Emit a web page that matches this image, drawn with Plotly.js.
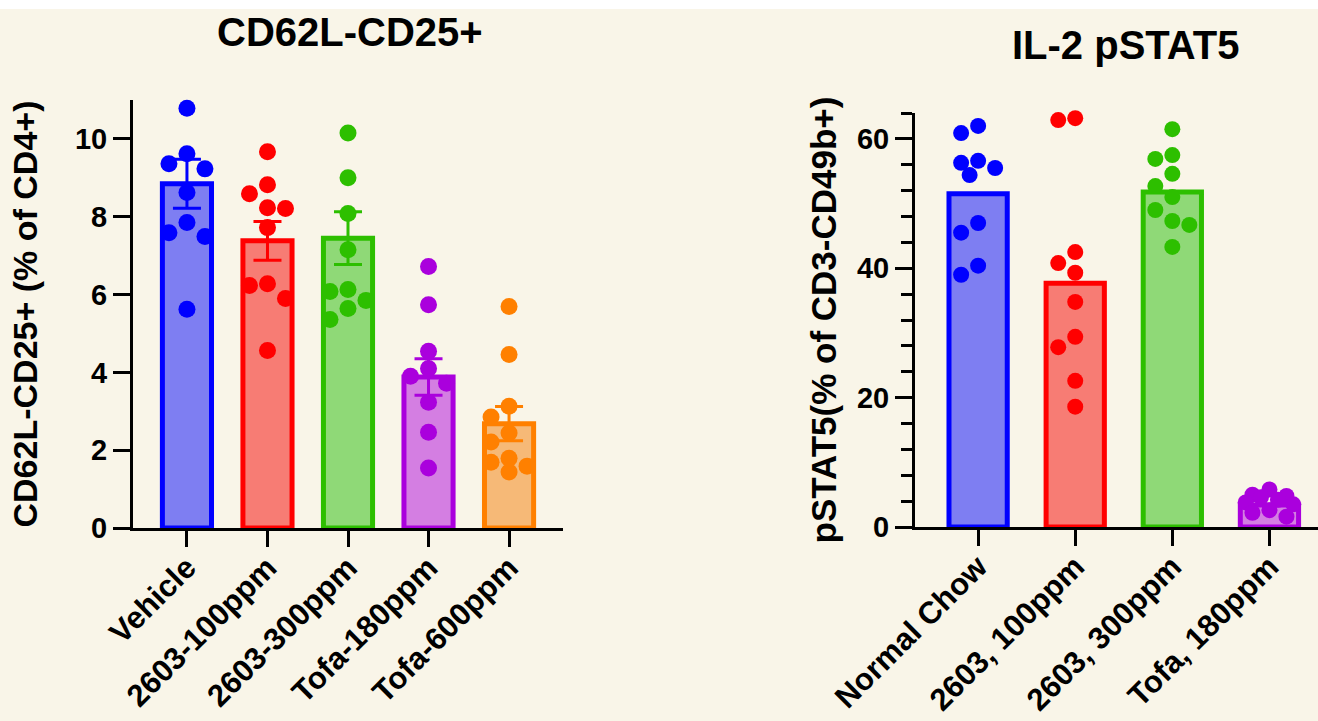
<!DOCTYPE html>
<html>
<head>
<meta charset="utf-8">
<script src="https://cdn.plot.ly/plotly-3.0.1.min.js"></script>
<style>
  html, body { margin: 0; padding: 0; background: #F9F5E8; }
  #chart { width: 1318px; height: 721px; }
</style>
</head>
<body>
<div id="chart"></div>
<script>
// ---------- Data (left panel) ----------
const cats1 = ['Vehicle', '2603-100ppm', '2603-300ppm', 'Tofa-180ppm', 'Tofa-600ppm'];
const means1 = [8.85, 7.38, 7.45, 3.88, 2.68];
const sem1 = [0.63, 0.50, 0.68, 0.47, 0.44];
const vehicle = [10.79, 9.62, 9.36, 9.23, 8.62, 7.85, 7.59, 7.49, 5.62];
const ppm100 = [9.67, 8.82, 8.59, 8.23, 8.21, 7.72, 6.28, 6.23, 5.90, 4.56];
const ppm300 = [10.15, 9.00, 8.08, 7.15, 6.13, 6.08, 5.85, 5.64, 5.36];
const tofa180 = [6.72, 5.74, 4.54, 4.10, 3.90, 3.72, 3.23, 2.46, 1.54];
const tofa600 = [5.69, 4.46, 3.13, 2.85, 2.44, 2.21, 1.79, 1.69, 1.59, 1.44];
const points1 = [vehicle, ppm100, ppm300, tofa180, tofa600];

// ---------- Data (right panel) ----------
const cats2 = ['Normal Chow', '2603, 100ppm', '2603, 300ppm', 'Tofa, 180ppm'];
const means2 = [51.5, 37.7, 51.8, 3.4];
const chow = [62.0, 60.9, 56.6, 56.3, 55.5, 54.4, 47.0, 45.5, 40.4, 39.0];
const s100 = [63.2, 62.9, 42.5, 40.8, 39.3, 34.8, 29.4, 27.8, 22.6, 18.6];
const s300 = [61.5, 57.5, 56.9, 54.6, 52.7, 51.0, 49.0, 47.3, 46.7, 43.3];
const sTofa = [5.8, 5.0, 4.8, 4.6, 4.2, 3.8, 3.5, 2.6, 2.2, 1.6];
const points2 = [chow, s100, s300, sTofa];

// ---------- Styles ----------
const lineColors1 = ['#0000FF', '#FF0000', '#2DBF00', '#AA00DD', '#FF8000'];
const fillColors1 = ['#7E7EF2', '#F77C74', '#8FD977', '#D47EE2', '#F6B977'];
const lineColors2 = lineColors1.slice(0, 4);
const fillColors2 = fillColors1.slice(0, 4);

const W = 1318, H = 721;
const FONT = '"Liberation Sans", Arial, Helvetica, sans-serif';
const BG = '#F9F5E8';

const ax1 = { xdom: [133 / W, 563 / W], xr: [-0.67, 4.67], ydom: [193 / H, 621 / H], yr: [0, 11] };
const ax2 = { xdom: [915 / W, 1], xr: [-0.65, 3.5], ydom: [194 / H, 608 / H], yr: [0, 64] };

// simple beeswarm in pixel space
function swarm(values, center, ax, diam) {
  const pxPerCat = (ax.xdom[1] - ax.xdom[0]) * W / (ax.xr[1] - ax.xr[0]);
  const pxPerY = (ax.ydom[1] - ax.ydom[0]) * H / (ax.yr[1] - ax.yr[0]);
  const placed = [];
  const xs = [];
  const prim = [0, -1, 1];
  const fallback = [0, -1, 1, -0.5, 0.5, -1.4, 1.4];
  values.forEach(v => {
    const py = v * pxPerY;
    const minD = (ox) => {
      let m = Infinity;
      placed.forEach(p => { m = Math.min(m, Math.hypot(p[0] - ox, p[1] - py)); });
      return m;
    };
    let chosen = null;
    for (const k of prim) {
      if (minD(k * diam) >= diam * 0.92) { chosen = k * diam; break; }
    }
    if (chosen === null) {
      let best = -1;
      for (const k of fallback) {
        const d = minD(k * diam);
        if (d > best) { best = d; chosen = k * diam; }
      }
    }
    placed.push([chosen, py]);
    xs.push(center + chosen / pxPerCat);
  });
  return xs;
}

const traces = [];
const idx1 = cats1.map((_, i) => i);
const idx2 = cats2.map((_, i) => i);

traces.push({
  type: 'bar', x: idx1, y: means1, width: 0.61,
  marker: { color: fillColors1, line: { color: lineColors1, width: 5 } },
  xaxis: 'x', yaxis: 'y', showlegend: false, hoverinfo: 'skip'
});
// error bars per group (colored)
idx1.forEach(i => {
  traces.push({
    type: 'scatter', mode: 'markers', x: [i], y: [means1[i]],
    marker: { size: 0.1, color: lineColors1[i], opacity: 0 },
    error_y: { type: 'data', array: [sem1[i]], visible: true, color: lineColors1[i], thickness: 3, width: 14 },
    xaxis: 'x', yaxis: 'y', showlegend: false, hoverinfo: 'skip', cliponaxis: false
  });
});
idx1.forEach(i => {
  traces.push({
    type: 'scatter', mode: 'markers',
    x: swarm(points1[i], i, ax1, 18), y: points1[i],
    marker: { size: 17, color: lineColors1[i], line: { width: 0 } },
    xaxis: 'x', yaxis: 'y', showlegend: false, hoverinfo: 'skip', cliponaxis: false
  });
});

traces.push({
  type: 'bar', x: idx2, y: means2, width: 0.6,
  marker: { color: fillColors2, line: { color: lineColors2, width: 5 } },
  xaxis: 'x2', yaxis: 'y2', showlegend: false, hoverinfo: 'skip'
});
idx2.forEach(i => {
  traces.push({
    type: 'scatter', mode: 'markers',
    x: swarm(points2[i], i, ax2, 17), y: points2[i],
    marker: { size: 16, color: lineColors2[i], line: { width: 0 } },
    xaxis: 'x2', yaxis: 'y2', showlegend: false, hoverinfo: 'skip', cliponaxis: false
  });
});

const tickFont = { family: FONT, size: 29, color: '#000', weight: 700 };
const xTickFont = { family: FONT, size: 31, color: '#000', weight: 700 };
const axTitleFont1 = { family: FONT, size: 34, color: '#000', weight: 700 };
const axTitleFont2 = { family: FONT, size: 35, color: '#000', weight: 700 };

const baseX = {
  showline: true, linewidth: 3, linecolor: '#000', showgrid: false, zeroline: false,
  ticks: 'outside', ticklen: 16, tickwidth: 3, tickcolor: '#000', tickangle: -45,
  tickfont: xTickFont, fixedrange: true, automargin: false, ticklabelstandoff: -10
};
const baseY = {
  showline: true, linewidth: 3, linecolor: '#000', showgrid: false, zeroline: false,
  ticks: 'outside', ticklen: 17, tickwidth: 3, tickcolor: '#000',
  tickfont: tickFont, fixedrange: true, automargin: false
};

const layout = {
  width: W, height: H,
  margin: { l: 0, r: 0, t: 0, b: 0 },
  paper_bgcolor: BG, plot_bgcolor: BG,
  font: { family: FONT, color: '#000' },
  xaxis: Object.assign({}, baseX, {
    domain: ax1.xdom, range: ax1.xr, tickvals: idx1, ticktext: cats1, anchor: 'y'
  }),
  yaxis: Object.assign({}, baseY, {
    domain: ax1.ydom, range: ax1.yr, tick0: 0, dtick: 2, anchor: 'x',
    title: { text: 'CD62L-CD25+ (% of CD4+)', font: axTitleFont1, standoff: 28 }
  }),
  xaxis2: Object.assign({}, baseX, {
    domain: ax2.xdom, range: ax2.xr, tickvals: idx2, ticktext: cats2, anchor: 'y2'
  }),
  yaxis2: Object.assign({}, baseY, {
    domain: ax2.ydom, range: ax2.yr, tick0: 0, dtick: 20, anchor: 'x2',
    minor: { dtick: 4, ticks: 'outside', ticklen: 11, tickwidth: 3, tickcolor: '#000', showgrid: false },
    title: { text: 'pSTAT5(% of CD3-CD49b+)', font: axTitleFont2, standoff: 10 }
  }),
  shapes: [
    { type: 'rect', xref: 'paper', yref: 'paper', x0: 0, x1: 1, y0: 1 - 9 / H, y1: 1,
      fillcolor: '#FFFFFF', line: { width: 0 }, layer: 'below' }
  ],
  annotations: [
    { text: 'CD62L-CD25+', xref: 'paper', yref: 'paper', x: 350 / W, y: 1 - 32 / H,
      xanchor: 'center', yanchor: 'middle', showarrow: false,
      font: { family: FONT, size: 40, color: '#000', weight: 700 } },
    { text: 'IL-2 pSTAT5', xref: 'paper', yref: 'paper', x: 1125 / W, y: 1 - 45 / H,
      xanchor: 'center', yanchor: 'middle', showarrow: false,
      font: { family: FONT, size: 40, color: '#000', weight: 700 } }
  ]
};

Plotly.newPlot('chart', traces, layout, { displayModeBar: false, staticPlot: true });
</script>
</body>
</html>
